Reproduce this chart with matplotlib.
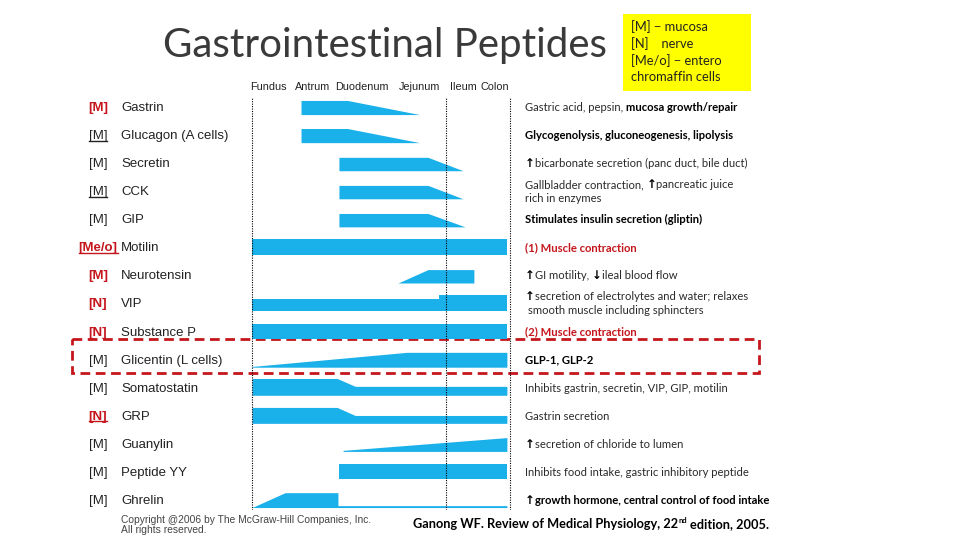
import matplotlib
matplotlib.use('Agg')
import matplotlib.pyplot as plt
from matplotlib.patches import Rectangle

# ---- data ----
peptides = ['Gastrin', 'Glucagon (A cells)', 'Secretin', 'CCK', 'GIP', 'Motilin',
            'Neurotensin', 'VIP', 'Substance P', 'Glicentin (L cells)', 'Somatostatin',
            'GRP', 'Guanylin', 'Peptide YY', 'Ghrelin']
tags = ['[M]', '[M]', '[M]', '[M]', '[M]', '[Me/o]', '[M]', '[N]', '[N]', '[M]',
        '[M]', '[N]', '[M]', '[M]', '[M]']
tag_red = [1, 0, 0, 0, 0, 1, 1, 1, 1, 0, 0, 1, 0, 0, 0]
tag_underline = [0, 1, 0, 1, 0, 1, 0, 0, 0, 0, 0, 1, 0, 0, 0]

segments = ['Fundus', 'Antrum', 'Duodenum', 'Jejunum', 'Ileum', 'Colon']
segment_pos = [6.2, 23.6, 42.6, 65.1, 81.8, 94.2]   # % of gut length
gut_lines = [0, 75.2, 100]

# distribution profile of each peptide: position along gut (%) and relative amount
profile_x = [
    [19, 37, 65],
    [19, 37, 65],
    [33.7, 68.2, 81.8],
    [33.7, 68.2, 81.8],
    [33.7, 68.2, 82.6],
    [0, 98.8],
    [56.6, 68.2, 86],
    [0, 72.5, 72.5, 98.8],
    [0, 98.8],
    [0, 60, 98.8],
    [0, 33, 40, 98.8],
    [0, 33, 40, 98.8],
    [35.3, 98.8],
    [33.7, 98.8],
    [0, 12.8, 33.3, 33.3, 98.8],
]
profile_h = [
    [0.95, 0.95, 0],
    [0.95, 0.95, 0],
    [0.9, 0.9, 0],
    [0.9, 0.9, 0],
    [0.9, 0.9, 0],
    [1.07, 1.07],
    [0, 0.9, 0.9],
    [0.8, 0.8, 1.07, 1.07],
    [1.0, 1.0],
    [0.05, 1.0, 1.0],
    [1.13, 1.13, 0.6, 0.6],
    [1.07, 1.07, 0.53, 0.53],
    [0.07, 0.93],
    [1.07, 1.07],
    [0, 1.0, 1.0, 0.13, 0.13],
]

effects = [
    [[('Gastric acid, pepsin,', 'n'), (' mucosa growth/repair', 'b')]],
    [[('Glycogenolysis, gluconeogenesis, lipolysis', 'b')]],
    [[('↑', 'a'), ('bicarbonate secretion (panc duct, bile duct)', 'n')]],
    [[('Gallbladder contraction,', 'n'), (' ↑', 'a'), ('pancreatic juice', 'n')],
     [('rich in enzymes', 'n')]],
    [[('Stimulates insulin secretion (gliptin)', 'b')]],
    [[('(1) Muscle contraction', 'r')]],
    [[('↑', 'a'), ('GI motility,', 'n'), (' ↓', 'a'), ('ileal blood flow', 'n')]],
    [[('↑', 'a'), ('secretion of electrolytes and water; relaxes', 'n')],
     [(' smooth muscle including sphincters', 'n')]],
    [[('(2) Muscle contraction', 'r')]],
    [[('GLP-1, GLP-2', 'b')]],
    [[('Inhibits gastrin, secretin, VIP, GIP, motilin', 'n')]],
    [[('Gastrin secretion', 'n')]],
    [[('↑', 'a'), ('secretion of chloride to lumen', 'n')]],
    [[('Inhibits food intake, gastric inhibitory peptide', 'n')]],
    [[('↑', 'a'), ('growth hormone, central control of food intake', 'b')]],
]
highlight = 'Glicentin (L cells)'
legend_lines = ['[M] − mucosa', '[N]    nerve', '[Me/o] − entero', 'chromaffin cells']

# ---- style ----
RED = '#c4161c'
BLUE = '#1ab0e9'
BAND = 0.53      # full band thickness in rows
STYLES = {
    'n': dict(family=['Lato', 'DejaVu Sans'], color='#2a2a2a'),
    'b': dict(family=['Lato', 'DejaVu Sans'], fontweight='bold', color='black'),
    'r': dict(family=['Lato', 'DejaVu Sans'], fontweight='bold', color=RED),
    'a': dict(family='DejaVu Sans', fontweight='bold', color='black', scale=1.05),
    'sup': dict(family=['Lato', 'DejaVu Sans'], fontweight='bold', color='black', scale=0.6, rise=5),
}

fig = plt.figure(figsize=(9.6, 5.4), dpi=100)
fig.patch.set_facecolor('white')
renderer = fig.canvas.get_renderer()

# overlay in pixel coordinates for text and boxes
ov = fig.add_axes([0, 0, 1, 1])
ov.set_xlim(0, 960)
ov.set_ylim(540, 0)
ov.axis('off')

# diagram axes: x = % of gut length, y = row index
px_per_unit = 2.58
row0, pitch = 107, 28.07
top_px, bot_px = 98, 510
left_px = 252 - px_per_unit
ax = fig.add_axes([left_px / 960, (540 - bot_px) / 540,
                   102 * px_per_unit / 960, (bot_px - top_px) / 540])
ax.set_xlim(-1, 101)
ax.set_ylim((bot_px - row0) / pitch, (top_px - row0) / pitch)
ax.patch.set_alpha(0)
for s in ax.spines.values():
    s.set_visible(False)

for i in range(len(peptides)):
    base = [i + 0.27] * len(profile_x[i])
    top = [i + 0.27 - h * BAND for h in profile_h[i]]
    ax.fill_between(profile_x[i], base, top, color=BLUE, lw=0)

for gx in gut_lines:
    ax.axvline(gx, color='black', lw=0.8, linestyle=(0, (1, 1.2)))

ax.xaxis.tick_top()
ax.set_xticks(segment_pos)
ax.set_xticklabels(segments, family='Liberation Sans', fontsize=7.8, color='#222222')
ax.tick_params(axis='x', length=0, pad=4)
ax.set_yticks([])


def row_px(i):
    d = ax.transData.transform((0, i))
    return ov.transData.inverted().transform(d)[1]


def put_chain(x, y, pieces, size):
    for text, style in pieces:
        kw = dict(STYLES[style])
        fs = size * kw.pop('scale', 1.0)
        rise = kw.pop('rise', 0)
        if text.startswith(' '):
            x += 0.26 * size * 100 / 72
            text = text.lstrip()
        t = ov.text(x, y - rise, text, fontsize=fs, ha='left', va='baseline', **kw)
        bb = t.get_window_extent(renderer)
        x = ov.transData.inverted().transform((bb.x1, bb.y0))[0]
    return x


# left labels
for i, name in enumerate(peptides):
    y = row_px(i) + 1
    red = tag_red[i]
    t = ov.text(98, y, tags[i], ha='center', va='center', family='Liberation Sans',
                fontsize=9.5, color=RED if red else '#222222',
                fontweight='bold' if red else 'normal')
    if tag_underline[i]:
        bb = t.get_window_extent(renderer)
        inv = ov.transData.inverted()
        (x0, yy), (x1, _) = inv.transform([(bb.x0, bb.y0 + 1.5), (bb.x1, bb.y0 + 1.5)])
        ov.plot([x0, x1], [yy, yy], color=RED if red else '#222222', lw=1)
    ov.text(121, y, name, ha='left', va='center', family='Liberation Sans',
            fontsize=9.5, color='#222222')

# right-hand effects
for i, lines in enumerate(effects):
    y = row_px(i)
    n = len(lines)
    for k, pieces in enumerate(lines):
        yb = y + 4 + (k - (n - 1) / 2) * 14
        put_chain(525, yb, pieces, 8.1)

# highlight box
hy = row_px(peptides.index(highlight))
ov.add_patch(Rectangle((72, hy - 21), 687, 34, fill=False, edgecolor=RED,
                       lw=2, linestyle=(0, (3.5, 2))))

# title
ov.text(163, 46, 'Gastrointestinal Peptides', ha='left', va='center',
        family='Lato', fontweight='normal', fontsize=29, color='#3a3a3a')

# legend box
ov.add_patch(Rectangle((623, 14), 128, 77, facecolor='#ffff00', edgecolor='none'))
for k, line in enumerate(legend_lines):
    ov.text(631, 27 + k * 16.7, line, ha='left', va='center', family='Lato',
            fontsize=9.3, color='#222222')

# footers
ov.text(121, 525, 'Copyright @2006 by The McGraw-Hill Companies, Inc.\nAll rights reserved.',
        ha='left', va='center', family='Liberation Sans', fontsize=7.4,
        color='#444444', linespacing=1.0)
put_chain(413, 528, [('Ganong WF. Review of Medical Physiology, 22', 'b'), ('nd', 'sup'),
                     (' edition, 2005.', 'b')], 9.2)

fig.savefig('out.png', dpi=100)
